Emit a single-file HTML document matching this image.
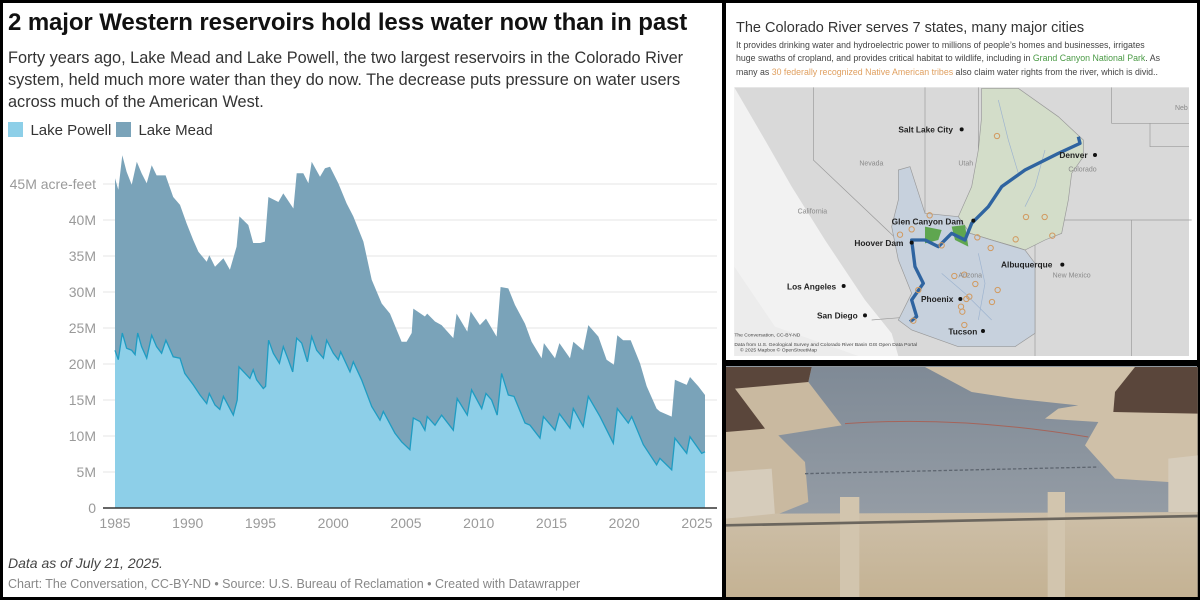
<!DOCTYPE html>
<html><head><meta charset="utf-8">
<style>
body{margin:0;width:1200px;height:600px;overflow:hidden;background:#000;font-family:"Liberation Sans",sans-serif;}
#left{position:absolute;left:3px;top:3px;width:719px;height:594px;background:#fff;}
#map{position:absolute;left:726px;top:3px;width:471px;height:357px;background:#fff;}
#photo{position:absolute;left:726px;top:366px;width:471px;height:231px;background:#8f979f;overflow:hidden;}
.t{position:absolute;white-space:nowrap;}
</style></head><body>
<div id="left">
  <div class="t" style="left:5px;top:6px;font-size:24px;font-weight:bold;color:#111;letter-spacing:-0.1px;">2 major Western reservoirs hold less water now than in past</div>
  <div class="t" style="left:5px;top:44px;font-size:16.3px;line-height:22px;color:#333;white-space:normal;width:712px;">Forty years ago, Lake Mead and Lake Powell, the two largest reservoirs in the Colorado River system, held much more water than they do now. The decrease puts pressure on water users across much of the American West.</div>
  <div style="position:absolute;left:5px;top:119px;">
    <span style="display:inline-block;width:15px;height:15px;background:#8dcfe8;vertical-align:-2px;"></span>
    <span style="font-size:15px;color:#333;margin-left:3px;">Lake Powell</span></div>
  <div style="position:absolute;left:113px;top:119px;">
    <span style="display:inline-block;width:15px;height:15px;background:#7aa3b9;vertical-align:-2px;"></span>
    <span style="font-size:15px;color:#333;margin-left:3px;">Lake Mead</span></div>
  <div class="t" style="left:5px;top:552px;font-size:14px;font-style:italic;color:#444;">Data as of July 21, 2025.</div>
  <div class="t" style="left:5px;top:574px;font-size:12.5px;color:#888;">Chart: The Conversation, CC-BY-ND • Source: U.S. Bureau of Reclamation • Created with Datawrapper</div>
</div>
<svg id="chart" width="1200" height="600" style="position:absolute;left:0;top:0;"></svg>

<div id="map">
  <div class="t" style="left:10px;top:17px;font-size:14.5px;color:#333;">The Colorado River serves 7 states, many major cities</div>
  <div class="t" style="left:10px;top:36px;font-size:8.8px;line-height:13.4px;color:#444;">It provides drinking water and hydroelectric power to millions of people’s homes and businesses, irrigates<br>huge swaths of cropland, and provides critical habitat to wildlife, including in <span style="color:#4a9a45">Grand Canyon National Park</span>. As<br>many as <span style="color:#e0a060">30 federally recognized Native American tribes</span> also claim water rights from the river, which is divid..</div>
</div>
<svg width="1200" height="600" style="position:absolute;left:0;top:0;">
 <g transform="translate(725,0) scale(0.33333)">
  <rect x="28" y="262" width="1364" height="806" fill="#d9d9d9"/>
  <path d="M28 262 L120 420 L200 560 L300 720 L420 900 L500 1000 L520 1068 L28 1068 Z" fill="#f2f2f2"/>
  <path d="M28 262 L28 800 L150 980 L400 1068 L28 1068" fill="#ececec"/>
  <g stroke="#9a9a9a" stroke-width="2" fill="none">
   <path d="M265 262 L265 480 L560 760"/><path d="M600 262 L600 660 L700 660"/>
   <path d="M760 262 L760 660 L1400 660"/><path d="M1160 262 L1160 370 L1392 370"/>
   <path d="M1275 370 L1275 440 L1392 440"/><path d="M1220 660 L1220 1068"/>
   <path d="M930 660 L930 1068"/><path d="M440 960 L560 950"/>
  </g>
  <path d="M770 265 L880 265 L1000 350 L1075 420 L1075 470 L1040 520 L1030 600 L1010 700 L960 720 L900 750 L870 740 L800 720 L735 700 L700 650 L740 560 L760 450 L770 350 Z" fill="#d3ddc9" stroke="#999" stroke-width="2"/>
  <path d="M520 510 L555 500 L600 640 L700 650 L735 700 L800 720 L900 750 L930 790 L930 1000 L870 1040 L700 1040 L560 990 L520 960 L560 880 L520 780 L500 680 L520 600 Z" fill="#c7d1dd" stroke="#999" stroke-width="2"/>
  <path d="M600 680 L650 690 L640 720 L600 730 Z M680 680 L720 675 L730 740 L690 720 Z" fill="#5fa64f"/>
  <g stroke="#9db3cf" stroke-width="2" fill="none">
   <path d="M820 300 L850 420 L880 520"/><path d="M960 450 L930 560 L900 620"/><path d="M650 820 L720 880 L800 960"/><path d="M760 760 L780 850 L760 960"/>
  </g>
  <path d="M1060 410 L1065 430 L1000 460 L900 510 L830 560 L790 620 L740 670 L720 720 L680 700 L640 740 L600 720 L560 720 L570 800 L595 850 L560 900 L575 950 L555 965" fill="none" stroke="#2f64a0" stroke-width="10" stroke-linejoin="round"/>
  <g fill="none" stroke="#d19a60" stroke-width="3">
   <circle cx="816" cy="408" r="8"/><circle cx="903" cy="651" r="8"/><circle cx="959" cy="651" r="8"/><circle cx="982" cy="707" r="8"/><circle cx="872" cy="718" r="8"/><circle cx="797" cy="744" r="8"/><circle cx="757" cy="712" r="8"/><circle cx="614" cy="646" r="8"/><circle cx="560" cy="688" r="8"/><circle cx="525" cy="704" r="8"/><circle cx="650" cy="736" r="8"/><circle cx="688" cy="828" r="8"/><circle cx="718" cy="824" r="8"/><circle cx="751" cy="852" r="8"/><circle cx="818" cy="870" r="8"/><circle cx="733" cy="890" r="8"/><circle cx="724" cy="897" r="8"/><circle cx="801" cy="906" r="8"/><circle cx="708" cy="920" r="8"/><circle cx="712" cy="935" r="8"/><circle cx="718" cy="975" r="8"/><circle cx="580" cy="870" r="8"/><circle cx="565" cy="962" r="8"/>
  </g>
  <g font-family="Liberation Sans, sans-serif" font-size="25" font-weight="bold" fill="#222">
   <text x="520" y="398">Salt Lake City</text><text x="1003" y="474">Denver</text><text x="500" y="673">Glen Canyon Dam</text><text x="388" y="738">Hoover Dam</text><text x="828" y="803">Albuquerque</text><text x="186" y="868">Los Angeles</text><text x="588" y="906">Phoenix</text><text x="276" y="956">San Diego</text><text x="670" y="1003">Tucson</text>
  </g>
  <g fill="#111"><circle cx="710" cy="388" r="6"/><circle cx="1110" cy="465" r="6"/><circle cx="745" cy="662" r="6"/><circle cx="560" cy="728" r="6"/><circle cx="1012" cy="794" r="6"/><circle cx="356" cy="858" r="6"/><circle cx="706" cy="897" r="6"/><circle cx="420" cy="946" r="6"/><circle cx="774" cy="993" r="6"/></g>
  <g font-family="Liberation Sans, sans-serif" font-size="21" fill="#8a8a8a">
   <text x="403" y="496">Nevada</text><text x="700" y="496">Utah</text><text x="1030" y="515">Colorado</text><text x="218" y="640">California</text><text x="983" y="832">New Mexico</text><text x="700" y="832">Arizona</text><text x="1350" y="330">Neb</text>
  </g>
  <g font-family="Liberation Sans, sans-serif" font-size="15" fill="#444">
   <text x="28" y="1010">The Conversation, CC-BY-ND</text><text x="28" y="1038">Data from U.S. Geological Survey and Colorado River Basin GIS Open Data Portal</text><text x="45" y="1054">© 2025 Mapbox © OpenStreetMap</text>
  </g>
 </g>
</svg>

<div id="photo"></div>
<svg width="1200" height="600" style="position:absolute;left:0;top:0;">
 <defs>
  <linearGradient id="water" x1="0" y1="0" x2="0" y2="1"><stop offset="0" stop-color="#7f8a96"/><stop offset="1" stop-color="#a0a6ad"/></linearGradient>
  <linearGradient id="dam" x1="0" y1="0" x2="0" y2="1"><stop offset="0" stop-color="#cdbfa8"/><stop offset="1" stop-color="#c4b293"/></linearGradient>
 </defs>
 <g transform="translate(725,362) scale(0.33333)">
  <rect x="3" y="15" width="1415" height="690" fill="url(#water)"/>
  <path d="M3 15 L260 15 L250 60 L350 190 L160 220 L240 300 L250 420 L150 460 L3 470 Z" fill="#c9b9a0"/>
  <path d="M3 15 L260 15 L250 60 L30 80 L120 200 L3 210 Z" fill="#5a463b"/>
  <path d="M600 15 L1418 15 L1418 450 L1330 360 L1170 350 L1080 250 L1120 180 L960 170 L1000 140 L1060 130 L870 110 L740 90 Z" fill="#cfc0a8"/>
  <path d="M1230 15 L1418 15 L1418 155 L1165 150 L1170 90 Z" fill="#5a463b"/>
  <path d="M3 330 L140 320 L150 460 L3 470 Z M1330 290 L1418 280 L1418 450 L1330 450 Z" fill="#d6ccbb"/>
  <path d="M3 470 L150 455 L1418 450 L1418 705 L3 705 Z" fill="url(#dam)"/>
  <rect x="345" y="405" width="58" height="300" fill="#d2c5ae"/>
  <rect x="968" y="390" width="52" height="315" fill="#d2c5ae"/>
  <path d="M3 490 L1418 462" stroke="#6b665e" stroke-width="8"/>
  <path d="M360 185 Q700 160 1090 225" stroke="#a5645a" stroke-width="3" fill="none"/>
  <path d="M240 335 L1120 315" stroke="#5e6670" stroke-width="4" stroke-dasharray="10 6"/>
 </g>
</svg>

<script>
const xTickYears = [1985, 1990, 1995, 2000, 2005, 2010, 2015, 2020, 2025];
const yTickValues = [0, 5, 10, 15, 20, 25, 30, 35, 40, 45];
const yTickLabels = ["0", "5M", "10M", "15M", "20M", "25M", "30M", "35M", "40M", "45M acre-feet"];
// Lake Powell storage (million acre-feet)
const powellYears = [1985.0,1985.23,1985.5,1985.8,1986.15,1986.38,1986.56,1986.83,1987.18,1987.52,1987.86,1988.2,1988.5,1989.0,1989.47,1989.8,1990.38,1990.84,1991.3,1991.48,1991.87,1992.2,1992.45,1993.13,1993.4,1993.52,1994.04,1994.27,1994.5,1994.73,1995.19,1995.35,1995.56,1995.88,1996.3,1996.57,1996.91,1997.21,1997.49,1997.83,1998.22,1998.52,1998.86,1999.32,1999.55,2000.0,2000.35,2000.51,2001.15,2001.38,2001.95,2002.64,2003.21,2003.44,2004.24,2004.7,2005.27,2005.5,2005.96,2006.3,2006.46,2006.99,2007.45,2008.25,2008.52,2009.21,2009.51,2010.2,2010.5,2010.88,2011.27,2011.57,2012.03,2012.42,2013.18,2013.52,2014.21,2014.44,2015.24,2015.54,2016.27,2016.5,2017.18,2017.53,2018.33,2019.25,2019.52,2020.28,2020.51,2021.31,2022.22,2022.45,2023.26,2023.48,2024.29,2024.52,2025.32,2025.55];
const powellValues = [21.9,20.6,24.3,22.2,21.9,21.3,24.3,22.4,20.8,24.0,22.4,21.5,23.3,21.0,20.8,18.7,17.1,15.7,14.5,15.9,14.3,13.7,15.5,12.9,15.0,19.6,18.5,18.0,19.2,17.8,16.6,16.9,23.3,21.5,20.1,22.4,20.6,18.9,23.6,22.9,20.3,23.8,21.9,20.8,23.3,21.5,20.6,21.7,18.9,20.3,17.8,14.1,12.2,13.4,10.4,9.2,8.1,12.5,12.0,10.8,12.7,11.5,12.9,10.8,15.2,12.9,16.4,13.8,15.9,15.0,12.9,18.7,15.7,15.5,11.8,11.5,9.7,12.7,10.8,13.1,11.1,13.8,11.3,15.5,12.7,9.0,13.8,11.8,12.7,8.8,6.0,6.9,5.3,9.7,7.6,9.9,7.6,7.8];
// Lake Powell + Lake Mead combined storage (top of stack, million acre-feet)
const combinedYears = [1985.0,1985.23,1985.5,1985.8,1986.15,1986.5,1986.83,1987.18,1987.52,1987.86,1988.48,1989.0,1989.47,1989.93,1990.38,1990.73,1991.3,1991.48,1991.87,1992.45,1992.9,1993.36,1993.55,1994.16,1994.5,1994.97,1995.3,1995.54,1996.23,1996.57,1997.26,1997.49,1997.94,1998.29,1998.52,1999.09,1999.43,1999.78,2000.35,2000.92,2001.38,2002.07,2002.64,2003.33,2003.9,2004.7,2005.04,2005.39,2005.5,2006.3,2006.46,2006.99,2007.45,2008.25,2008.48,2009.21,2009.44,2010.08,2010.5,2011.23,2011.5,2012.03,2012.49,2013.18,2013.63,2014.32,2014.48,2015.24,2015.54,2016.27,2016.5,2017.18,2017.53,2018.22,2018.79,2019.29,2019.52,2019.93,2020.44,2021.08,2021.54,2022.22,2022.45,2023.26,2023.48,2024.29,2024.52,2025.09,2025.55];
const combinedValues = [45.8,44.2,49.0,46.7,44.9,48.1,46.5,45.1,47.6,46.2,46.2,43.2,42.1,39.5,37.2,35.6,34.2,35.1,33.5,34.7,33.1,36.3,40.5,39.3,36.8,36.8,37.0,43.2,42.5,43.7,41.6,46.5,46.5,45.1,48.1,46.0,47.2,47.4,45.1,42.3,40.5,37.0,31.7,28.4,27.0,23.1,23.1,24.3,27.7,26.6,27.0,25.9,25.4,23.6,27.0,24.5,27.3,25.4,26.3,23.8,30.7,30.5,28.2,25.6,23.1,20.8,22.9,20.8,22.9,20.8,23.1,21.9,25.4,23.8,20.6,19.9,24.0,23.3,23.3,20.1,16.9,13.8,13.4,12.7,17.8,17.1,18.2,16.9,15.7];

const svg = document.getElementById('chart');
const NS = 'http://www.w3.org/2000/svg';
const x = yr => 115 + (yr - 1985) * 14.55;
const y = v => 508 - v * 7.2;
function mk(tag, attrs){const e=document.createElementNS(NS,tag);for(const k in attrs)e.setAttribute(k,attrs[k]);svg.appendChild(e);return e;}

yTickValues.forEach((v,i)=>{
  if(v>0){const g=mk('line',{x1:103,x2:717,y1:y(v),y2:y(v),stroke:'#e6e6e6','stroke-width':1});
  
  }
  const t=mk('text',{x:96,y:y(v)+5,'text-anchor':'end','font-size':14,fill:'#9a9a9a','font-family':'Liberation Sans, sans-serif'});
  t.textContent=yTickLabels[i];
  
  
});

function areaPath(ys, vs){
  let d='M'+x(ys[0])+' '+y(0);
  ys.forEach((yr,i)=>{d+=' L'+x(yr).toFixed(1)+' '+y(vs[i]).toFixed(1);});
  d+=' L'+x(ys[ys.length-1])+' '+y(0)+' Z';return d;
}
const mead=mk('path',{d:areaPath(combinedYears,combinedValues),fill:'#7aa3b9'});


const pow=mk('path',{d:areaPath(powellYears,powellValues),fill:'#8dcfe8'});


const pl=mk('polyline',{points:powellYears.map((yr,i)=>x(yr).toFixed(1)+','+y(powellValues[i]).toFixed(1)).join(' '),fill:'none',stroke:'#1f9cc2','stroke-width':1.3});



const ax=mk('line',{x1:103,x2:717,y1:508,y2:508,stroke:'#333','stroke-width':1.5});


xTickYears.forEach(yr=>{
  const t=mk('text',{x:x(yr),y:528,'text-anchor':'middle','font-size':14,fill:'#9a9a9a','font-family':'Liberation Sans, sans-serif'});
  t.textContent=yr;
  
  
});
</script>
</body></html>
